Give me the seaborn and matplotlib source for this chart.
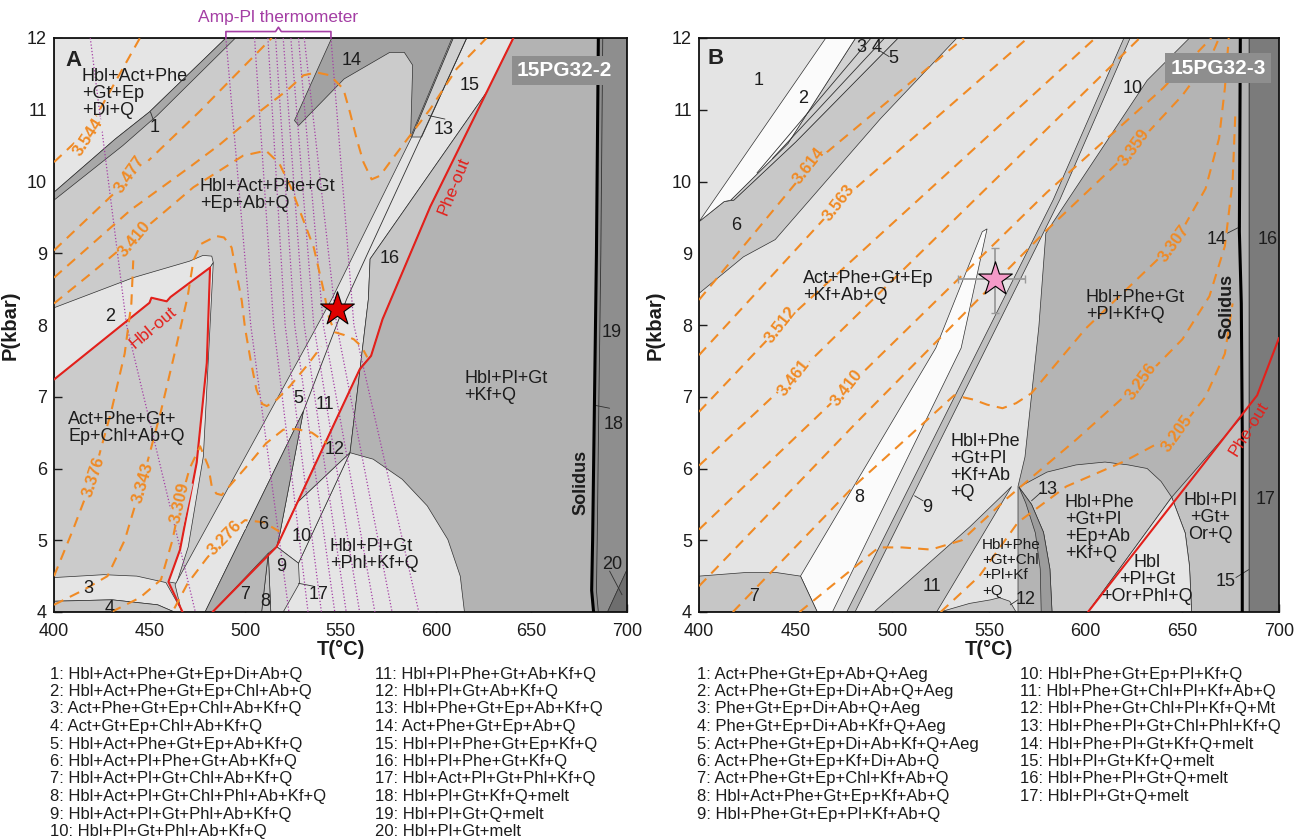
import numpy as np
import pandas as pd
import seaborn as sns
import matplotlib.pyplot as plt

# ------------------------------------------------------------------
# Panel A (15PG32-2) : field outlines as (T degC, P kbar)
# ------------------------------------------------------------------
a_topleft = [(400, 9.85), (432, 10.59), (450, 10.97), (490, 12), (400, 12)]
a_f1 = [(400, 9.85), (432, 10.59), (450, 10.97), (490, 12), (495, 12),
        (454, 10.92), (436, 10.5), (400, 9.74)]
a_f14 = [(545.4, 12), (608.4, 12), (586.7, 10.62), (587.8, 11.62), (583.4, 11.8),
         (575.8, 11.8), (551.9, 11.43), (528.1, 10.78), (525.9, 10.85)]
a_f2 = [(400, 8.24), (441.5, 8.66), (471, 8.89), (478, 8.97), (482.6, 8.96),
        (483.4, 8.87), (481.7, 8.8), (461, 8.39), (459, 8.33), (451, 8.38),
        (450, 8.31), (400, 7.24)]
a_sliver = [(483.4, 8.87), (478.2, 6.17), (470.3, 4.91), (464.2, 4.4), (459.9, 4.42),
            (466, 4.87), (474.7, 6.08), (480, 7.47), (481.7, 8.8)]
a_f3 = [(400, 4.48), (426, 4.52), (443.4, 4.5), (458.6, 4.41), (467.3, 4.0),
        (463, 4.0), (454.3, 4.1), (430.4, 4.17), (400, 4.15)]
a_f4 = [(400, 4.15), (430.4, 4.17), (454.3, 4.1), (463, 4.0), (400, 4.0)]
a_band = [(466.8, 4.0), (463.4, 4.38), (545.4, 8.36), (587.3, 10.62), (609.1, 12),
          (640.5, 12), (629, 11.34), (565.5, 8.92), (564.6, 8.36), (555, 6.22),
          (527.2, 5.52), (516.6, 4.91), (518.3, 5.1), (530.6, 6.8), (479.1, 4.0)]
a_strip = [(587.3, 10.62), (609.1, 12), (616.1, 12), (592.5, 10.62)]
a_f6 = [(479.1, 4.0), (530.6, 6.8), (518.3, 5.1), (516.6, 4.91), (483, 4.0)]
a_f16 = [(560.3, 7.4), (564.6, 8.36), (565.5, 8.92), (629, 11.34), (597, 9.65),
         (572, 8.08), (566, 7.57)]
a_f12 = [(527.2, 5.52), (555, 6.22), (560.3, 7.4)]
a_right = [(560.3, 7.4), (555, 6.22), (555, 4.0), (682.5, 4.0), (681.5, 4.3), (682, 5),
           (683, 7), (684, 9), (685, 12), (640.5, 12), (597, 9.65), (572, 8.08), (566, 7.57)]
a_dome = [(520, 4.0), (528, 4.68), (555, 6.22), (567.1, 6.13), (582.3, 5.85),
          (595.4, 5.48), (606.2, 5.01), (612.7, 4.5), (614.9, 4.0)]
a_f10 = [(516.6, 4.91), (527.2, 5.52), (555, 6.22), (528, 4.68)]
a_f9 = [(512.2, 4.82), (516.6, 4.91), (528, 4.68), (528.5, 4.4), (520, 4.0), (513.5, 4.0)]
a_f8 = [(512.2, 4.82), (508.7, 4.0), (513.5, 4.0)]
a_f7 = [(483, 4.0), (512.2, 4.82), (508.7, 4.0)]
a_f19 = [(685, 12), (700, 12), (700, 4.59), (689.8, 4.0), (682.5, 4.0), (681.5, 4.3),
         (682, 5), (683, 7), (684, 9)]
a_f20 = [(689.8, 4.0), (700, 4.59), (700, 4.0)]

# boundary / reaction lines
a_hbl_out = [(400, 7.24), (450, 8.31), (451, 8.38), (459, 8.33), (461, 8.39), (481.7, 8.8),
             (480, 7.47), (474.7, 6.08), (466, 4.87), (459.9, 4.42), (467.3, 4.0)]
a_phe_out = [(483, 4.0), (516.6, 4.91), (560, 7.38), (566, 7.57), (572, 8.08),
             (597, 9.65), (640.5, 12)]
a_line_5_11 = [(530.6, 6.8), (553.2, 8.36), (616.1, 12)]
a_solidus = [(685, 12), (684, 9), (683, 7), (682, 5), (681.5, 4.3), (682.5, 4.0)]
a_line_18 = [(687.3, 12), (686.3, 9), (685.3, 7), (684.4, 5), (684, 4.3), (685, 4.0)]
a_line_20 = [(690.9, 4.57), (697.4, 4.24)]

# Si isopleths (orange dashed)
a_iso_3544 = [(400, 10.27), (418, 10.72), (445, 12.0)]
a_iso_3477 = [(400, 9.04), (440, 10.05), (476, 10.97), (514, 12.0)]
a_iso_3410 = [(400, 8.3), (419, 8.71), (442, 9.22), (473, 9.92), (499, 10.36), (511, 10.43),
              (518, 10.25), (524, 9.92), (530, 9.5), (536, 9.08), (541, 8.5), (544, 8.1),
              (547, 7.9), (552, 7.86), (557, 7.8), (561, 7.7), (564, 7.55)]
a_iso_upper = [(400, 8.66), (440, 9.6), (471, 10.2), (487, 10.52), (504, 10.9), (522, 11.27),
               (530.6, 11.48), (537.5, 11.52), (544.5, 11.48), (551.5, 11.29), (555, 10.96),
               (558.5, 10.59), (562, 10.27), (566.3, 10.03), (570.7, 10.08), (575.9, 10.27),
               (586.4, 10.64), (597, 11.01), (610.8, 11.57), (626.5, 12)]
a_iso_3376 = [(400, 4.5), (410, 5.15), (420.6, 5.89), (430, 6.8), (437, 7.6), (440.5, 8.3),
              (441.5, 8.9)]
a_iso_3343 = [(400, 4.1), (415, 4.3), (428, 4.5), (437, 5.0), (446, 5.8), (456, 6.8),
              (464, 7.7), (470, 8.4), (473, 8.9), (477, 9.13), (485, 9.24), (489, 9.22),
              (493, 9.08), (495.6, 8.71), (498.3, 8.34), (500, 7.96), (503, 7.5), (506, 7.1),
              (509, 6.9), (511.4, 6.87), (516.6, 6.96), (523.6, 7.15), (532.3, 7.43), (540, 7.7)]
a_iso_3309 = [(430, 4.0), (445, 4.2), (456, 4.45), (462, 5.0), (466, 5.52), (471, 6.0),
              (476.5, 6.31), (480.8, 6.03), (482.6, 5.75), (485, 5.65), (487.8, 5.63),
              (495, 5.85), (502.6, 6.08), (511, 6.35), (520, 6.54), (527, 6.55),
              (535, 6.5), (543, 6.35)]
a_iso_3276 = [(463, 4.05), (470, 4.4), (480, 4.75), (489.5, 5.05), (500, 5.28),
              (510, 5.25), (518, 5.12)]

# Amp-Pl thermometer lines (purple dotted): T at P = 12, 8 and 4 kbar
a_purple_top = [419, 490, 505, 512, 516, 520, 524, 528, 531, 545]
a_purple_mid = [438, 503, 515, 521, 526, 531, 536, 541, 548, 557]
a_purple_bot = [474, 523, 533, 540, 547, 553, 560, 568, 577, 591]

a_star = (548, 8.22)

a_iso_labels = [("3.544", 418, 10.62, 57), ("3.477", 439.8, 10.1, 55), ("3.410", 442.4, 9.2, 50),
                ("3.376", 420.6, 5.89, 72), ("3.343", 446.4, 5.8, 74), ("3.309", 466, 5.52, 77),
                ("3.276", 489.5, 5.03, 46)]

a_numbers = [("1", 452.9, 10.75), ("2", 429.3, 8.12), ("3", 418, 4.33), ("4", 429.3, 4.05),
             ("5", 528, 6.98), ("6", 509.6, 5.22), ("7", 500, 4.24), ("8", 510.5, 4.14),
             ("9", 519.2, 4.63), ("10", 529.7, 5.05), ("11", 541.9, 6.89), ("12", 547.1, 6.26),
             ("13", 603.9, 10.73), ("14", 555.9, 11.69), ("15", 617.8, 11.34), ("16", 575.9, 8.92),
             ("17", 538.4, 4.24), ("18", 693, 6.62), ("19", 692, 7.9), ("20", 692, 4.66)]
a_ticks = [[(450.5, 10.97), (452, 10.86)], [(596, 10.92), (604.7, 10.87)],
           [(528, 4.4), (535.8, 4.36)], [(683.3, 6.88), (690.9, 6.84)]]
a_fields_text = [("Hbl+Act+Phe\n+Gt+Ep\n+Di+Q", 414.5, 11.23),
                 ("Hbl+Act+Phe+Gt\n+Ep+Ab+Q", 476.4, 9.81),
                 ("Act+Phe+Gt+\nEp+Chl+Ab+Q", 407.5, 6.56),
                 ("Hbl+Pl+Gt\n+Phl+Kf+Q", 544.5, 4.8),
                 ("Hbl+Pl+Gt\n+Kf+Q", 614.8, 7.13)]

# ------------------------------------------------------------------
# Panel B (15PG32-3)
# ------------------------------------------------------------------
b_f6 = [(400, 9.44), (413, 9.72), (418, 9.74), (450, 10.55), (503, 12), (533.4, 12),
        (494, 10.88), (439.4, 9.19), (423, 8.95), (400, 8.44)]
b_thin = [(416.4, 9.74), (446, 10.53), (481, 12), (503, 12), (450, 10.55), (418, 9.74)]
b_white2 = [(400, 9.44), (465.6, 12), (481, 12), (446, 10.53), (416.4, 9.74), (413, 9.72)]
b_wedge8 = [(452.5, 4.5), (461.2, 4.0), (469, 4.0), (535.6, 7.68), (549, 9.34),
            (546.5, 9.3), (522.5, 7.68)]
b_band9 = [(476.4, 4.0), (583.3, 9.75), (619.8, 12), (623, 12), (586.7, 9.75), (480.7, 4.0)]
b_dark = [(565, 5.75), (568.6, 6.16), (575.8, 7.98), (579.4, 9.28), (631.8, 11.41),
          (653.7, 12), (680, 12), (679.5, 9.3), (680.5, 8.3), (681, 6.5), (681, 4.0), (565, 4.0)]
b_orq = [(644.5, 5.6), (680.7, 6.72), (681, 4.0), (654.8, 4.0), (653.7, 4.64), (651.5, 5.1)]
b_dome_l = [(565.5, 5.74), (580, 5.95), (595, 6.05), (610, 6.09), (622, 6.05), (631.8, 6.0),
            (639, 5.82), (644.5, 5.6), (601.2, 4.0), (582.6, 4.0), (581.5, 4.6),
            (578.2, 5.11), (572, 5.5)]
b_dome_r = [(644.5, 5.6), (651.5, 5.1), (653.7, 4.64), (654.8, 4.0), (601.2, 4.0)]
b_f13 = [(565.5, 5.74), (572, 5.5), (578.2, 5.11), (581.5, 4.6), (582.6, 4.0), (577, 4.0),
         (576.5, 4.6), (574, 5.1), (569, 5.52)]
b_f11 = [(490.5, 4.0), (540.2, 5.19), (561.7, 5.75), (522.9, 4.0)]
b_f12 = [(524.6, 4.0), (540, 4.12), (550.9, 4.17), (555.3, 4.2), (560.7, 4.15), (564, 4.0)]
b_f7 = [(400, 4.5), (424, 4.55), (440, 4.55), (452.5, 4.5), (461.2, 4.0), (400, 4.0)]
b_strip = [(680, 12), (684.5, 12), (684.5, 4.0), (681, 4.0), (681, 6.5), (680.5, 8.3), (679.5, 9.3)]
b_f17 = [(684.5, 12), (700, 12), (700, 4.0), (684.5, 4.0)]

b_phe_out = [(601.2, 4.0), (688.7, 7.02), (700, 7.82)]
b_solidus = [(680, 12), (679.5, 9.3), (680.5, 8.3), (681, 6.5), (681, 4.0)]
b_inner_3 = [(430, 10.12), (489, 12)]
b_inner_4 = [(438, 10.32), (496, 12)]

b_iso_3614 = [(400, 8.35), (456.9, 10.2), (537, 12)]
b_iso_3563 = [(400, 7.58), (472.2, 9.7), (570, 12)]
b_iso_3512 = [(400, 6.79), (442.6, 8.0), (605, 12)]
b_iso_3461 = [(400, 6.04), (449.2, 7.28), (628, 12)]
b_iso_3410 = [(400, 5.15), (476.5, 7.12), (580, 9.85), (640, 11.3), (665, 12)]
b_iso_3359 = [(400, 4.36), (480, 6.6), (579, 9.3), (625.2, 10.48), (650, 11.2), (665, 11.75), (669, 12)]
b_iso_3307 = [(417.5, 4.0), (480, 5.75), (532, 7.02), (542, 6.96), (549, 6.89), (557, 6.84),
              (564, 6.91), (572, 7.05), (600, 7.95), (646, 9.14), (662, 9.9), (669, 10.6),
              (672, 11.3), (674, 12)]
b_iso_3256 = [(452, 4.0), (493, 4.9), (505, 4.9), (520, 4.87), (536, 5.0), (560, 5.6),
              (595, 6.4), (628.5, 7.21), (650, 7.8), (664, 8.4), (672, 9.1), (676, 10.0), (677.5, 11.0)]
b_iso_3205 = [(525, 4.0), (545, 4.5), (565, 5.25), (590, 5.75), (620, 6.1), (647, 6.49),
              (662, 7.0), (672, 7.6), (676, 8.3)]

b_star = (553, 8.64)
b_star_T_err = (534.1, 568.6)
b_star_P_err = (8.17, 9.08)

b_iso_labels = [("3.614", 456.9, 10.22, 52), ("3.563", 472.2, 9.7, 52), ("3.512", 442.6, 8.0, 52),
                ("3.461", 449.2, 7.27, 52), ("3.410", 476.5, 7.12, 52), ("3.359", 625.2, 10.48, 54),
                ("3.307", 646, 9.14, 54), ("3.256", 628.5, 7.21, 54), ("3.205", 647.1, 6.49, 54)]
b_numbers = [("1", 430.6, 11.41), ("2", 453.6, 11.16), ("3", 484.2, 11.87), ("4", 491.8, 11.87),
             ("5", 500.6, 11.71), ("6", 419.2, 9.39), ("7", 428.4, 4.22), ("8", 483.1, 5.6),
             ("9", 518.1, 5.46), ("10", 624.1, 11.3), ("11", 520.3, 4.36), ("12", 569, 4.18),
             ("13", 580.4, 5.71), ("14", 667.9, 9.19), ("15", 672.3, 4.43), ("16", 694, 9.19),
             ("17", 693, 5.57)]
b_ticks = [[(493, 11.83), (498.4, 11.74)], [(511.5, 5.62), (515.9, 5.55)],
           [(572, 5.55), (577, 5.67)], [(561, 4.1), (565, 4.17)],
           [(673.3, 9.28), (679.9, 9.37)], [(677.7, 4.48), (684.3, 4.59)]]
b_fields_text = [("Act+Phe+Gt+Ep\n+Kf+Ab+Q", 453.6, 8.53),
                 ("Hbl+Phe+Gt\n+Pl+Kf+Q", 600, 8.26),
                 ("Hbl+Phe\n+Gt+Pl\n+Kf+Ab\n+Q", 530.1, 6.02),
                 ("Hbl+Phe\n+Gt+Pl\n+Ep+Ab\n+Kf+Q", 589.2, 5.17)]
b_fields_center = [("Hbl+Pl\n+Gt+\nOr+Q", 664.6, 5.32),
                   ("Hbl\n+Pl+Gt\n+Or+Phl+Q", 631.8, 4.45)]
# small four-line label in field 11/12 corner, one line each
b_small_lines = [("Hbl+Phe", 4.94), ("+Gt+Chl", 4.73), ("+Pl+Kf", 4.51), ("+Q", 4.29)]
b_small_T = 546.5

# assemblage lists under the panels
leg_a1 = ["1: Hbl+Act+Phe+Gt+Ep+Di+Ab+Q", "2: Hbl+Act+Phe+Gt+Ep+Chl+Ab+Q",
          "3: Act+Phe+Gt+Ep+Chl+Ab+Kf+Q", "4: Act+Gt+Ep+Chl+Ab+Kf+Q",
          "5: Hbl+Act+Phe+Gt+Ep+Ab+Kf+Q", "6: Hbl+Act+Pl+Phe+Gt+Ab+Kf+Q",
          "7: Hbl+Act+Pl+Gt+Chl+Ab+Kf+Q", "8: Hbl+Act+Pl+Gt+Chl+Phl+Ab+Kf+Q",
          "9: Hbl+Act+Pl+Gt+Phl+Ab+Kf+Q", "10: Hbl+Pl+Gt+Phl+Ab+Kf+Q"]
leg_a2 = ["11: Hbl+Pl+Phe+Gt+Ab+Kf+Q", "12: Hbl+Pl+Gt+Ab+Kf+Q", "13: Hbl+Phe+Gt+Ep+Ab+Kf+Q",
          "14: Act+Phe+Gt+Ep+Ab+Q", "15: Hbl+Pl+Phe+Gt+Ep+Kf+Q", "16: Hbl+Pl+Phe+Gt+Kf+Q",
          "17: Hbl+Act+Pl+Gt+Phl+Kf+Q", "18: Hbl+Pl+Gt+Kf+Q+melt", "19: Hbl+Pl+Gt+Q+melt",
          "20: Hbl+Pl+Gt+melt"]
leg_b1 = ["1: Act+Phe+Gt+Ep+Ab+Q+Aeg", "2: Act+Phe+Gt+Ep+Di+Ab+Q+Aeg",
          "3: Phe+Gt+Ep+Di+Ab+Q+Aeg", "4: Phe+Gt+Ep+Di+Ab+Kf+Q+Aeg",
          "5: Act+Phe+Gt+Ep+Di+Ab+Kf+Q+Aeg", "6: Act+Phe+Gt+Ep+Kf+Di+Ab+Q",
          "7: Act+Phe+Gt+Ep+Chl+Kf+Ab+Q", "8: Hbl+Act+Phe+Gt+Ep+Kf+Ab+Q",
          "9: Hbl+Phe+Gt+Ep+Pl+Kf+Ab+Q"]
leg_b2 = ["10: Hbl+Phe+Gt+Ep+Pl+Kf+Q", "11: Hbl+Phe+Gt+Chl+Pl+Kf+Ab+Q",
          "12: Hbl+Phe+Gt+Chl+Pl+Kf+Q+Mt", "13: Hbl+Phe+Pl+Gt+Chl+Phl+Kf+Q",
          "14: Hbl+Phe+Pl+Gt+Kf+Q+melt", "15: Hbl+Pl+Gt+Kf+Q+melt",
          "16: Hbl+Phe+Pl+Gt+Q+melt", "17: Hbl+Pl+Gt+Q+melt"]

# ------------------------------------------------------------------
sns.set_theme(style="white")
plt.rcParams['font.family'] = ['Liberation Sans', 'DejaVu Sans']

ORANGE = "#f08a24"
RED = "#e3201b"
PURPLE = "#a43ea4"
TXT = "#1c1c1c"


def poly(ax, pts, fc, lw=0.5, z=1):
    t, p = zip(*pts)
    ax.fill(t, p, facecolor=fc, edgecolor="#303030", linewidth=lw, zorder=z)


def line(ax, pts, color, ls="-", lw=1.0, z=3):
    df = pd.DataFrame(pts, columns=["T", "P"])
    sns.lineplot(data=df, x="T", y="P", sort=False, estimator=None, color=color,
                 linestyle=ls, linewidth=lw, ax=ax, zorder=z)


def iso_label(ax, txt, t, p, r, bg):
    # the label sits in a gap of its dashed line
    ax.text(t, p, txt, color=ORANGE, fontsize=12, fontweight="bold", rotation=r,
            ha="center", va="center", rotation_mode="anchor", zorder=6,
            bbox=dict(boxstyle="square,pad=0.05", fc=bg, ec="none"))


def style_axes(ax):
    ax.set_xlim(400, 700)
    ax.set_ylim(4, 12)
    ax.set_xticks(range(400, 701, 50))
    ax.set_yticks(range(4, 13))
    ax.tick_params(axis="both", direction="in", length=6, width=1, labelsize=13,
                   colors=TXT, bottom=True, left=True, top=False, right=False)
    ax.tick_params(axis="x", pad=8)
    ax.tick_params(axis="y", pad=5)
    for s in ax.spines.values():
        s.set_color("#111111")
        s.set_linewidth(1.3)
    ax.set_xlabel("T(°C)", fontsize=14.5, fontweight="bold", color=TXT, labelpad=0)
    ax.set_ylabel("P(kbar)", fontsize=14.5, fontweight="bold", color=TXT, labelpad=5)


fig = plt.figure(figsize=(12.95, 8.39), dpi=100)
fig.patch.set_facecolor("white")
axA = fig.add_axes([54 / 1295, 227 / 839, 573 / 1295, 574 / 839])
axB = fig.add_axes([699 / 1295, 227 / 839, 580 / 1295, 574 / 839])

# ---------------- panel A ----------------
A_BG = "#cbcbcb"
A_LIGHT = "#e5e5e5"
axA.set_facecolor(A_BG)
for pts, fc in [(a_topleft, A_LIGHT), (a_f1, "#a8a8a8"), (a_f14, "#a2a2a2"),
                (a_f2, A_LIGHT), (a_sliver, A_LIGHT), (a_f3, A_LIGHT), (a_f4, "#c6c6c6"),
                (a_band, A_LIGHT), (a_strip, "#d0d0d0"), (a_f6, "#acacac"),
                (a_f16, "#c6c6c6"), (a_f12, "#c6c6c6"), (a_right, "#b3b3b3"),
                (a_dome, A_LIGHT), (a_f10, A_LIGHT), (a_f9, "#d6d6d6"),
                (a_f8, "#c4c4c4"), (a_f7, "#b8b8b8"), (a_f19, "#8e8e8e"), (a_f20, "#6e6e6e")]:
    poly(axA, pts, fc)

line(axA, a_line_5_11, "#303030", lw=0.6, z=2)
line(axA, a_line_18, "#303030", lw=0.6, z=2)
line(axA, a_line_20, "#303030", lw=0.6, z=2)
for tk in a_ticks:
    line(axA, tk, "#303030", lw=0.6, z=2)
line(axA, a_solidus, "#000000", lw=2.2, z=3)

for tt, tm, tb in zip(a_purple_top, a_purple_mid, a_purple_bot):
    line(axA, [(tt, 12), (tm, 8), (tb, 4)], PURPLE, ls=(0, (1, 1.6)), lw=0.9, z=3)

line(axA, a_hbl_out, RED, lw=1.5, z=4)
line(axA, a_phe_out, RED, lw=1.5, z=4)

for iso in [a_iso_3544, a_iso_3477, a_iso_3410, a_iso_upper, a_iso_3376,
            a_iso_3343, a_iso_3309, a_iso_3276]:
    line(axA, iso, ORANGE, ls=(0, (5, 3.5)), lw=1.5, z=5)

a_label_bg = [A_LIGHT, A_BG, A_BG, A_BG, A_BG, A_BG, A_LIGHT]
for (txt, t, p, r), bg in zip(a_iso_labels, a_label_bg):
    iso_label(axA, txt, t, p, r, bg)
for txt, t, p in a_numbers:
    axA.text(t, p, txt, color=TXT, fontsize=13, ha="center", va="center", zorder=6)
for txt, t, p in a_fields_text:
    axA.text(t, p, txt, color=TXT, fontsize=13, ha="left", va="center",
             linespacing=1.0, zorder=6)

axA.text(452, 7.96, "Hbl-out", color=RED, fontsize=12.5, rotation=40,
         ha="center", va="center", rotation_mode="anchor", zorder=6)
axA.text(609.1, 9.94, "Phe-out", color=RED, fontsize=12.5, rotation=68,
         ha="center", va="center", rotation_mode="anchor", zorder=6)
axA.text(675.7, 5.8, "Solidus", color=TXT, fontsize=13, fontweight="bold",
         rotation=90, ha="center", va="center", zorder=6)
axA.text(410.1, 11.69, "A", color="#222222", fontsize=16, fontweight="bold",
         ha="center", va="center", zorder=6)
axA.text(667.4, 11.55, "15PG32-2", color="white", fontsize=15, fontweight="bold",
         ha="center", va="center", zorder=7,
         bbox=dict(boxstyle="square,pad=0.25", fc="#8e8e8e", ec="none"))

sns.scatterplot(x=[a_star[0]], y=[a_star[1]], marker="*", s=650, color="#e00000",
                edgecolor="black", linewidth=0.8, ax=axA, zorder=8)

# thermometer bracket above the axes
axA.plot([490, 490, 516, 517.5, 519, 545, 545], [12.0, 12.09, 12.09, 12.15, 12.09, 12.09, 12.0],
         color=PURPLE, lw=1.2, clip_on=False, zorder=8)
axA.text(517.5, 12.28, "Amp-Pl thermometer", color=PURPLE, fontsize=12.5,
         ha="center", va="center", clip_on=False)
style_axes(axA)

# ---------------- panel B ----------------
B_BG = "#e4e4e4"
B_DARK = "#b4b4b4"
axB.set_facecolor(B_BG)
for pts, fc in [(b_f6, "#c8c8c8"), (b_thin, "#d2d2d2"), (b_white2, "#fbfbfb"),
                (b_wedge8, "#fbfbfb"), (b_band9, "#c0c0c0"), (b_dark, B_DARK),
                (b_orq, "#c2c2c2"), (b_dome_l, "#cacaca"), (b_dome_r, "#e6e6e6"),
                (b_f13, "#9c9c9c"), (b_f11, "#c4c4c4"), (b_f12, "#c8c8c8"), (b_f7, "#c6c6c6"),
                (b_strip, "#b3b3b3"), (b_f17, "#7b7b7b")]:
    poly(axB, pts, fc)

line(axB, b_inner_3, "#303030", lw=0.6, z=2)
line(axB, b_inner_4, "#303030", lw=0.6, z=2)
for tk in b_ticks:
    line(axB, tk, "#303030", lw=0.6, z=2)
line(axB, b_solidus, "#000000", lw=2.2, z=3)
line(axB, b_phe_out, RED, lw=1.5, z=4)

for iso in [b_iso_3614, b_iso_3563, b_iso_3512, b_iso_3461, b_iso_3410,
            b_iso_3359, b_iso_3307, b_iso_3256, b_iso_3205]:
    line(axB, iso, ORANGE, ls=(0, (5, 3.5)), lw=1.5, z=5)

b_label_bg = ["#c8c8c8", B_BG, B_BG, B_BG, B_BG, B_DARK, B_DARK, B_DARK, B_DARK]
for (txt, t, p, r), bg in zip(b_iso_labels, b_label_bg):
    iso_label(axB, txt, t, p, r, bg)
for txt, t, p in b_numbers:
    axB.text(t, p, txt, color=TXT, fontsize=13, ha="center", va="center", zorder=6)
for txt, t, p in b_fields_text:
    axB.text(t, p, txt, color=TXT, fontsize=13, ha="left", va="center",
             linespacing=1.0, zorder=6)
for txt, t, p in b_fields_center:
    axB.text(t, p, txt, color=TXT, fontsize=13, ha="center", va="center",
             linespacing=1.0, zorder=6)
for txt, p in b_small_lines:
    axB.text(b_small_T, p, txt, color=TXT, fontsize=11, ha="left", va="center", zorder=6)

axB.text(684.3, 6.56, "Phe-out", color=RED, fontsize=12.5, rotation=58,
         ha="center", va="center", rotation_mode="anchor", zorder=6)
axB.text(673, 8.26, "Solidus", color=TXT, fontsize=13, fontweight="bold",
         rotation=90, ha="center", va="center", zorder=6)
axB.text(408.8, 11.71, "B", color="#222222", fontsize=16, fontweight="bold",
         ha="center", va="center", zorder=6)
axB.text(668.4, 11.58, "15PG32-3", color="white", fontsize=15, fontweight="bold",
         ha="center", va="center", zorder=7,
         bbox=dict(boxstyle="square,pad=0.25", fc="#8e8e8e", ec="none"))

axB.errorbar([b_star[0]], [b_star[1]],
             xerr=[[b_star[0] - b_star_T_err[0]], [b_star_T_err[1] - b_star[0]]],
             yerr=[[b_star[1] - b_star_P_err[0]], [b_star_P_err[1] - b_star[1]]],
             fmt="none", ecolor="#9a9a9a", elinewidth=1.3, capsize=3, zorder=7)
sns.scatterplot(x=[b_star[0]], y=[b_star[1]], marker="*", s=650, color="#f49ac8",
                edgecolor="black", linewidth=0.8, ax=axB, zorder=8)
style_axes(axB)

# ---------------- assemblage lists ----------------
for col, x0 in [(leg_a1, 49.8), (leg_a2, 375.2), (leg_b1, 697), (leg_b2, 1020.4)]:
    for i, s in enumerate(col):
        y = 674 + i * 17.5
        fig.text(x0 / 1295, 1 - y / 839, s, fontsize=12, color=TXT, ha="left", va="center")

fig.savefig("out.png", dpi=100)
